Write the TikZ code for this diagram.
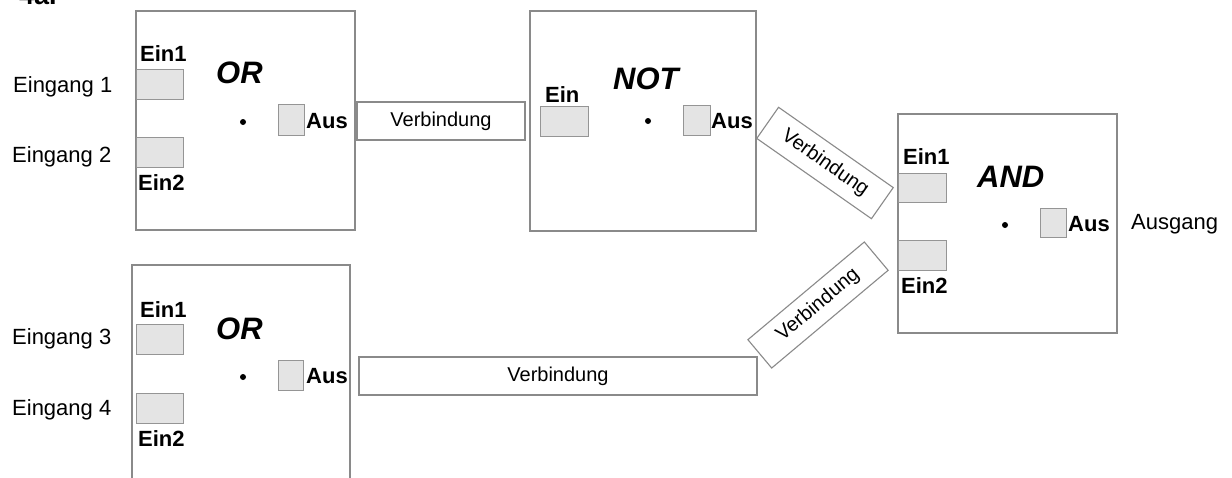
\documentclass[tikz,border=0pt]{standalone}
\usepackage{fontspec}
\setmainfont{Liberation Sans}
\definecolor{boxgray}{HTML}{8A8A8A}
\definecolor{portgray}{HTML}{959595}
\definecolor{portfill}{HTML}{E4E4E4}
\begin{document}
\begin{tikzpicture}[x=1pt,y=-1pt]
\tikzset{
  gatebox/.style={draw=boxgray, line width=1.1pt, fill=white, inner sep=0pt},
  portbox/.style={draw=portgray, fill=portfill, line width=1pt, inner sep=0pt},
  wirebox/.style={draw=boxgray, line width=1.1pt, fill=white, inner sep=0pt,
    font=\fontsize{20}{24}\selectfont},
  lbl/.style={inner sep=0pt, anchor=base west, font=\fontsize{22}{26}\selectfont},
  plbl/.style={inner sep=0pt, anchor=base west, font=\bfseries\fontsize{22}{26}\selectfont},
  gname/.style={inner sep=0pt, anchor=base west, font=\bfseries\itshape\fontsize{31}{36}\selectfont},
  joint/.style={circle, fill=black, inner sep=0pt, minimum size=6pt},
}
\useasboundingbox (0,0) rectangle (1232,477);
\clip (0,0) rectangle (1232,477);
\fill[white] (0,0) rectangle (1232,477);

% heading
\node[inner sep=0pt, anchor=base west, font=\bfseries\fontsize{27}{30}\selectfont] (title) at (19,4.5) {4a.};

% gate boxes
\node[gatebox, minimum width=219pt, minimum height=219pt] (or1) at (245.5,120.5) {};
\node[gatebox, minimum width=226pt, minimum height=220pt] (not) at (643,121) {};
\node[gatebox, minimum width=219pt, minimum height=219pt] (and) at (1007.5,223.5) {};
\node[gatebox, minimum width=218pt, minimum height=219pt] (or2) at (241,374.5) {};

% ports
\node[portbox, minimum width=47pt, minimum height=30pt] (or1-in1) at (159.5,84) {};
\node[portbox, minimum width=47pt, minimum height=30pt] (or1-in2) at (159.5,152) {};
\node[portbox, minimum width=26pt, minimum height=31pt] (or1-out) at (291,119.5) {};
\node[portbox, minimum width=48pt, minimum height=30pt] (not-in) at (564,121) {};
\node[portbox, minimum width=27pt, minimum height=30pt] (not-out) at (696.5,120) {};
\node[portbox, minimum width=48pt, minimum height=29pt] (and-in1) at (922,187.5) {};
\node[portbox, minimum width=48pt, minimum height=30pt] (and-in2) at (922,255) {};
\node[portbox, minimum width=26pt, minimum height=29pt] (and-out) at (1053,222.5) {};
\node[portbox, minimum width=47pt, minimum height=30pt] (or2-in1) at (159.5,339) {};
\node[portbox, minimum width=47pt, minimum height=30pt] (or2-in2) at (159.5,408) {};
\node[portbox, minimum width=25pt, minimum height=30pt] (or2-out) at (290.5,375) {};

% evaluation points
\node[joint] (or1-dot) at (243,122) {};
\node[joint] (not-dot) at (648,121) {};
\node[joint] (and-dot) at (1005,225) {};
\node[joint] (or2-dot) at (243,377) {};

% connections
\node[wirebox, minimum width=168pt, minimum height=38pt] (w1) at (441,121) {Verbindung};
\node[wirebox, minimum width=140pt, minimum height=38pt, rotate=-35] (w2) at (825,163) {Verbindung};
\node[wirebox, minimum width=152pt, minimum height=37pt, rotate=40] (w3) at (818,305) {Verbindung};
\node[wirebox, minimum width=398pt, minimum height=38pt] (w4) at (558,376) {Verbindung};

% external signals
\node[lbl] (e1) at (13,92) {Eingang 1};
\node[lbl] (e2) at (12,162) {Eingang 2};
\node[lbl] (e3) at (12,344) {Eingang 3};
\node[lbl] (e4) at (12,415) {Eingang 4};
\node[lbl] (aout) at (1131,229) {Ausgang};

% upper OR gate
\node[plbl] (or1-l1) at (140,61) {Ein1};
\node[plbl] (or1-l2) at (138,190) {Ein2};
\node[gname] (or1-name) at (216,83) {OR};
\node[plbl] (or1-lo) at (306,128) {Aus};

% NOT gate
\node[plbl] (not-li) at (545,102) {Ein};
\node[gname] (not-name) at (613,89) {NOT};
\node[plbl] (not-lo) at (711,128) {Aus};

% AND gate
\node[plbl] (and-l1) at (903,164) {Ein1};
\node[gname] (and-name) at (977,187) {AND};
\node[plbl] (and-l2) at (901,293) {Ein2};
\node[plbl] (and-lo) at (1068,231) {Aus};

% lower OR gate
\node[plbl] (or2-l1) at (140,317) {Ein1};
\node[gname] (or2-name) at (216,339) {OR};
\node[plbl] (or2-lo) at (306,383) {Aus};
\node[plbl] (or2-l2) at (138,446) {Ein2};
\end{tikzpicture}
\end{document}
